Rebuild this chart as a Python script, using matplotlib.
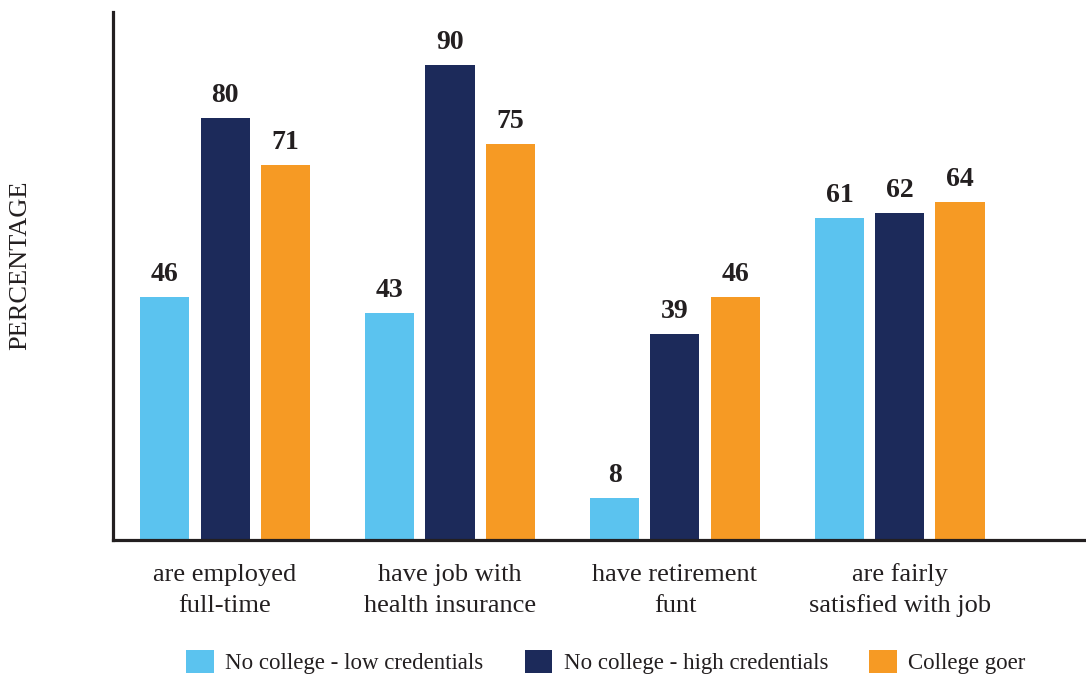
import matplotlib
matplotlib.use("Agg")
import matplotlib.pyplot as plt
from matplotlib.patches import Patch
import numpy as np

categories = ["are employed\nfull-time", "have job with\nhealth insurance",
              "have retirement\nfunt", "are fairly\nsatisfied with job"]
series_names = ["No college - low credentials", "No college - high credentials", "College goer"]
low_cred = [46, 43, 8, 61]
high_cred = [80, 90, 39, 62]
college = [71, 75, 46, 64]
colors = ["#5BC3EF", "#1C2A5A", "#F69A24"]
text_color = "#231F20"

plt.rcParams['font.family'] = ['Liberation Serif', 'DejaVu Serif']

fig = plt.figure(figsize=(10.86, 6.79), dpi=100)
ax = fig.add_axes([113/1086, 1-540/679, 1-113/1086, 528/679])

x = np.arange(len(categories))
offset = 0.267
width = 0.218
for vals, off, col in zip([low_cred, high_cred, college], [-offset, 0, offset], colors):
    bars = ax.bar(x + off, vals, width=width, color=col, zorder=2)
    for b, v in zip(bars, vals):
        ax.annotate(str(v), (b.get_x() + b.get_width()/2, v), xytext=(0, 7),
                    textcoords="offset points", ha="center", va="bottom",
                    fontsize=20, fontweight="bold", color=text_color)

ax.set_xlim(-0.498, 3.827)
ax.set_ylim(0, 100)
ax.set_xticks(x)
ax.set_xticklabels([])
ax.tick_params(axis="x", length=0)
ax.set_yticks([])

# category labels, one line at a time for even spacing
for xi, lab in zip(x, categories):
    for k, line in enumerate(lab.split("\n")):
        ax.annotate(line, (xi, 0), xycoords=("data", "axes fraction"),
                    xytext=(0, -29.5 - 22.3 * k), textcoords="offset points",
                    ha="center", va="baseline", fontsize=19, color=text_color,
                    annotation_clip=False)

for s in ["top", "right"]:
    ax.spines[s].set_visible(False)
for s in ["left", "bottom"]:
    ax.spines[s].set_linewidth(2.3)
    ax.spines[s].set_color(text_color)
    ax.spines[s].set_zorder(3)

fig.text(20/1086, 1-265/679, "PERCENTAGE", rotation=90, ha="center", va="center",
         fontsize=19, color=text_color)

handles = [Patch(facecolor=c, edgecolor="none") for c in colors]
leg = fig.legend(handles, series_names, loc="center", bbox_to_anchor=(606/1086, 1-662/679),
                 ncol=3, frameon=False, fontsize=16.5, handlelength=1.2, handleheight=1.2,
                 handletextpad=0.5, columnspacing=1.8, borderaxespad=0)
for t in leg.get_texts():
    t.set_color(text_color)

fig.savefig("out.png", dpi=100)
